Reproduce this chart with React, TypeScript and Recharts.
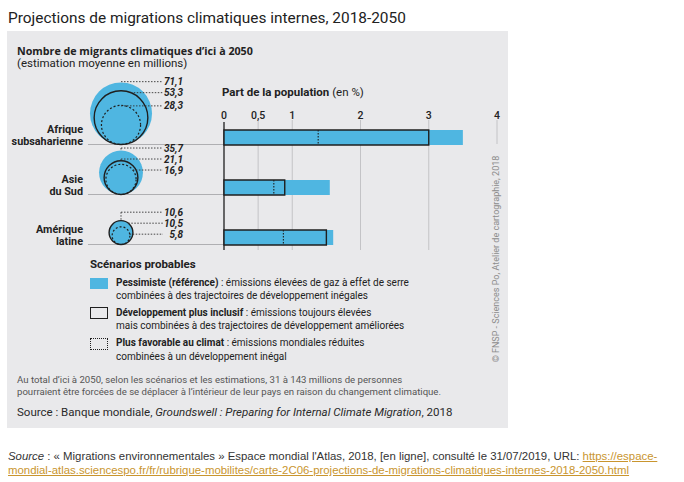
import React from "react";
import {
  BarChart,
  Bar,
  XAxis,
  YAxis,
  ZAxis,
  CartesianGrid,
  ScatterChart,
  Scatter,
} from "recharts";

const regions = ["Afrique subsaharienne", "Asie du Sud", "Amérique latine"];

// nombre de migrants (millions)
const migrantsPessimiste = [71.1, 35.7, 10.6];
const migrantsInclusif = [53.3, 21.1, 10.5];
const migrantsFavorable = [28.3, 16.9, 5.8];

// part de la population (%)
const partPessimiste = [3.5, 1.55, 1.6];
const partInclusif = [3.0, 0.89, 1.5];
const partFavorable = [1.38, 0.73, 0.87];

const pctTicks = [0, 0.5, 1, 2, 3, 4];

const BLUE = "#4fb6e1";
const PANEL = "#e9e9eb";
const INK = "#1f1f1f";
const GRID = "#c3c3c6";
const BAR_SIZE = 15;
const MAX_R = 31;
const FONT = "Roboto, 'Open Sans', sans-serif";
const BOLD_FONT = "'Open Sans', Roboto, sans-serif";

const barData = regions.map((region, i) => ({
  region,
  pessimiste: partPessimiste[i],
  inclusif: partInclusif[i],
  favorable: partFavorable[i],
}));

const scenarioSets = [migrantsPessimiste, migrantsInclusif, migrantsFavorable];
const circleData = scenarioSets.map((set, k) =>
  regions.map((region, i) => ({
    region,
    x: 0,
    value: set[i],
    kind: k,
    values: scenarioSets.map((s) => s[i]),
  }))
);
const maxMigrants = Math.max(...migrantsPessimiste);

// écarte les étiquettes trop proches
function spread(ys: number[], gap: number) {
  const out = [...ys];
  for (let it = 0; it < 60; it++) {
    for (let i = 1; i < out.length; i++) {
      const d = out[i] - out[i - 1];
      if (d < gap) {
        const s = (gap - d) / 2;
        out[i - 1] -= s;
        out[i] += s;
      }
    }
  }
  return out;
}

function CircleShape(props: any) {
  const { cx, cy, width, payload } = props;
  const r = width / 2;
  const base = cy + BAR_SIZE / 2;
  const ccy = base - r;
  const kind = payload.kind;
  const radii = payload.values.map((v: number) => r * Math.sqrt(v / payload.value));
  const tops = radii.map((rr: number) => base - 2 * rr + 0.5);
  const labelY = spread(tops, 11)[kind];
  const top = base - 2 * r;

  let sx = cx;
  let vertical = null;
  if (labelY <= top + 0.5) {
    if (labelY < top - 1) {
      vertical = (
        <line x1={cx} y1={labelY} x2={cx} y2={top} stroke="#333" strokeWidth={0.9} strokeDasharray="1.5 1.5" />
      );
    }
  } else {
    const dy = labelY - ccy;
    sx = cx + Math.sqrt(Math.max(0, r * r - dy * dy));
  }

  let circle;
  if (kind === 0) circle = <circle cx={cx} cy={ccy} r={r} fill={BLUE} />;
  else if (kind === 1)
    circle = <circle cx={cx} cy={ccy} r={r} fill="none" stroke={INK} strokeWidth={1.4} />;
  else
    circle = (
      <circle cx={cx} cy={ccy} r={r} fill="none" stroke={INK} strokeWidth={1.2} strokeDasharray="2 2" />
    );

  return (
    <g>
      {kind === 0 && (
        <line x1={cx - 33} x2={cx + 103} y1={base} y2={base} stroke="#a8a8ab" strokeWidth={0.9} />
      )}
      {circle}
      {vertical}
      <line x1={sx} y1={labelY} x2={cx + 42} y2={labelY} stroke="#333" strokeWidth={0.9} strokeDasharray="1.5 1.5" />
      <text
        x={cx + 62}
        y={labelY}
        dy="0.35em"
        textAnchor="end"
        fontFamily={FONT}
        fontSize={10}
        fontWeight={700}
        fontStyle="italic"
        fill="#222"
      >
        {String(payload.value).replace(".", ",")}
      </text>
    </g>
  );
}

function RegionTick(props: any) {
  const { x, y, payload } = props;
  const name: string = payload.value;
  const cut = name.indexOf(" ");
  const lines = [name.slice(0, cut), name.slice(cut + 1)];
  return (
    <g>
      <text x={x} y={y - 4.5} textAnchor="end" fontFamily={FONT} fontSize={10.8} fontWeight={700} fill="#222">
        {lines[0]}
      </text>
      <text x={x} y={y + 7.5} textAnchor="end" fontFamily={FONT} fontSize={10.8} fontWeight={700} fill="#222">
        {lines[1]}
      </text>
    </g>
  );
}

function PctTick(props: any) {
  const { x, y, payload } = props;
  return (
    <text x={x} y={y + 7} textAnchor="middle" fontFamily={FONT} fontSize={10.5} fontWeight={500} fill="#222">
      {String(payload.value).replace(".", ",")}
    </text>
  );
}

function DottedEnd(props: any) {
  const { x, y, width, height } = props;
  const ex = x + width;
  return (
    <line x1={ex} x2={ex} y1={y} y2={y + height} stroke={INK} strokeWidth={1.1} strokeDasharray="1.5 1.5" />
  );
}

const abs = (left: number, top: number, extra: React.CSSProperties = {}): React.CSSProperties => ({
  position: "absolute",
  left,
  top,
  whiteSpace: "nowrap",
  ...extra,
});

function Txt({ x, cy, size, children, style }: any) {
  return (
    <div style={abs(x, cy - size * 0.575, { fontSize: size, lineHeight: `${size * 1.15}px`, ...style })}>
      {children}
    </div>
  );
}

export default function App() {
  return (
    <div
      style={{
        position: "absolute",
        left: 0,
        top: 0,
        width: 684,
        height: 482,
        background: "#fff",
        fontFamily: FONT,
        color: "#222",
        overflow: "hidden",
      }}
    >
      <Txt x={8} cy={19} size={15.4} style={{ color: "#222" }}>
        Projections de migrations climatiques internes, 2018-2050
      </Txt>

      <div style={abs(7, 31, { width: 501, height: 397, background: PANEL })} />

      <Txt x={17} cy={51} size={10.7} style={{ fontWeight: 700, fontFamily: BOLD_FONT }}>
        Nombre de migrants climatiques d’ici à 2050
      </Txt>
      <Txt x={17} cy={64} size={11.5}>
        (estimation moyenne en millions)
      </Txt>
      <Txt x={222} cy={93} size={11.5}>
        <b>Part de la population</b> (en %)
      </Txt>

      <div style={abs(0, 0)}>
        <ScatterChart width={230} height={280} margin={{ top: 112, right: 6, bottom: 18, left: 0 }}>
          <XAxis type="number" dataKey="x" domain={[-33, 103]} hide />
          <YAxis
            type="category"
            dataKey="region"
            allowDuplicatedCategory={false}
            reversed
            width={88}
            axisLine={false}
            tickLine={false}
            tickSize={0}
            tickMargin={5}
            tick={<RegionTick />}
            interval={0}
          />
          <ZAxis type="number" dataKey="value" domain={[0, maxMigrants]} range={[0, Math.PI * MAX_R * MAX_R]} />
          {circleData.map((d, k) => (
            <Scatter key={k} data={d} shape={<CircleShape />} isAnimationActive={false} />
          ))}
        </ScatterChart>
      </div>

      <div style={abs(0, 0)}>
        <BarChart
          width={520}
          height={280}
          data={barData}
          layout="vertical"
          margin={{ top: 92, right: 23, bottom: 18, left: 224 }}
          barSize={BAR_SIZE}
          barGap={-BAR_SIZE}
        >
          <CartesianGrid horizontal={false} verticalValues={[0.5, 1, 2, 3]} y={120} height={130} stroke={GRID} />
          <CartesianGrid horizontal={false} verticalValues={[4]} y={120} height={24} stroke={GRID} />
          <XAxis
            type="number"
            orientation="top"
            domain={[0, 4]}
            ticks={pctTicks}
            interval={0}
            height={20}
            axisLine={false}
            tickLine={false}
            tickSize={0}
            tickMargin={0}
            tick={<PctTick />}
          />
          <YAxis type="category" dataKey="region" hide />
          <Bar dataKey="pessimiste" fill={BLUE} isAnimationActive={false} />
          <Bar dataKey="favorable" shape={<DottedEnd />} isAnimationActive={false} />
          <Bar dataKey="inclusif" fill="none" stroke={INK} strokeWidth={1.4} isAnimationActive={false} />
          <CartesianGrid horizontal={false} verticalValues={[0]} y={122} height={128} stroke={INK} strokeWidth={1.3} />
        </BarChart>
      </div>

      <Txt x={90} cy={265} size={11.5} style={{ fontWeight: 700 }}>
        Scénarios probables
      </Txt>
      <div style={abs(90, 278, { width: 18, height: 11, background: BLUE })} />
      <Txt x={116} cy={283} size={10}>
        <b>Pessimiste (référence)</b> : émissions élevées de gaz à effet de serre
      </Txt>
      <Txt x={116} cy={296} size={10}>
        combinées à des trajectoires de développement inégales
      </Txt>
      <div style={abs(90, 307, { width: 16, height: 10, border: `1.3px solid ${INK}` })} />
      <Txt x={116} cy={313} size={10}>
        <b>Développement plus inclusif</b> : émissions toujours élevées
      </Txt>
      <Txt x={116} cy={326} size={10}>
        mais combinées à des trajectoires de développement améliorées
      </Txt>
      <div style={abs(90, 338, { width: 16, height: 10, border: `1px dotted ${INK}` })} />
      <Txt x={116} cy={343} size={10}>
        <b>Plus favorable au climat</b> : émissions mondiales réduites
      </Txt>
      <Txt x={116} cy={357} size={10}>
        combinées à un développement inégal
      </Txt>

      <Txt x={17} cy={380} size={9.6} style={{ color: "#555" }}>
        Au total d’ici à 2050, selon les scénarios et les estimations, 31 à 143 millions de personnes
      </Txt>
      <Txt x={17} cy={392} size={9.6} style={{ color: "#555" }}>
        pourraient être forcées de se déplacer à l’intérieur de leur pays en raison du changement climatique.
      </Txt>
      <Txt x={17} cy={413} size={11.5} style={{ color: "#2a2a2a" }}>
        Source : Banque mondiale, <i>Groundswell : Preparing for Internal Climate Migration</i>, 2018
      </Txt>

      <div
        style={abs(496, 259, {
          fontSize: 9,
          color: "#8c8c8c",
          transform: "translate(-50%, -50%) rotate(-90deg)",
        })}
      >
        © FNSP - Sciences Po, Atelier de cartographie, 2018
      </div>

      <div
        style={abs(8, 449, {
          fontFamily: "'Liberation Sans', Arial, sans-serif",
          fontSize: 11.4,
          lineHeight: "14px",
          color: "#333",
        })}
      >
        <i>Source</i> : « Migrations environnementales » Espace mondial l'Atlas, 2018, [en ligne], consulté le
        31/07/2019, URL:{" "}
        <span style={{ color: "#c9952e", textDecoration: "underline" }}>https://espace-</span>
        <br />
        <span style={{ color: "#c9952e", textDecoration: "underline" }}>
          mondial-atlas.sciencespo.fr/fr/rubrique-mobilites/carte-2C06-projections-de-migrations-climatiques-internes-2018-2050.html
        </span>
      </div>
    </div>
  );
}
